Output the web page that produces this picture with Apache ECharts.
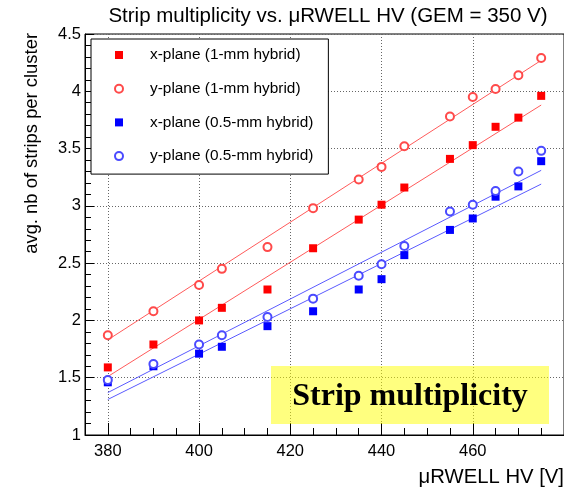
<!DOCTYPE html>
<html>
<head>
<meta charset="utf-8">
<script src="https://cdn.jsdelivr.net/npm/echarts@6/dist/echarts.min.js"></script>
<style>
  html, body { margin: 0; padding: 0; background: #fff; }
  #chart { width: 564px; height: 492px; }
</style>
</head>
<body>
<div id="chart"></div>
<script>
// HV points (V) and avg. strips per cluster
const hvRed = [380, 390, 400, 405, 415, 425, 435, 440, 445, 455, 460, 465, 470, 475];
const xPlane1mm = [1.59, 1.79, 2.00, 2.11, 2.27, 2.63, 2.88, 3.01, 3.16, 3.41, 3.53, 3.69, 3.77, 3.96];
const yPlane1mm = [1.87, 2.08, 2.31, 2.45, 2.64, 2.98, 3.23, 3.34, 3.52, 3.78, 3.95, 4.02, 4.14, 4.29];
const hvBlue = [380, 390, 400, 405, 415, 425, 435, 440, 445, 455, 460, 465, 470, 475];
const xPlaneHalf = [1.46, 1.60, 1.71, 1.77, 1.95, 2.08, 2.27, 2.36, 2.57, 2.79, 2.89, 3.08, 3.17, 3.39];
const yPlaneHalf = [1.48, 1.62, 1.79, 1.87, 2.03, 2.19, 2.39, 2.49, 2.65, 2.95, 3.01, 3.13, 3.30, 3.48];

// linear fit end points [hv, value]
const fitX1mm = [[380, 1.51], [475, 3.88]];
const fitY1mm = [[380, 1.83], [475, 4.27]];
const fitXHalf = [[380, 1.31], [475, 3.19]];
const fitYHalf = [[380, 1.37], [475, 3.31]];

const names = ['x-plane (1-mm hybrid)', 'y-plane (1-mm hybrid)', 'x-plane (0.5-mm hybrid)', 'y-plane (0.5-mm hybrid)'];

const font = 'Liberation Sans, Arial, sans-serif';
const pair = (xs, ys) => xs.map((x, i) => [x, ys[i]]);

function pts(name, xs, ys, symbol, color, size) {
  return {
    name: name,
    type: 'scatter',
    data: pair(xs, ys),
    symbol: symbol,
    symbolSize: size,
    itemStyle: { color: color, opacity: 1, borderWidth: symbol === 'emptyCircle' ? 1 : 0 },
    z: 5
  };
}
function fit(name, data, color) {
  return {
    name: name,
    type: 'line',
    data: data,
    showSymbol: false,
    lineStyle: { color: color, width: 1 },
    silent: true,
    z: 3
  };
}

const chart = echarts.init(document.getElementById('chart'));
chart.setOption({
  animation: false,
  title: {
    text: 'Strip multiplicity vs. μRWELL HV (GEM = 350 V)',
    left: 323,
    textAlign: 'center',
    top: 1,
    textStyle: { fontFamily: font, fontSize: 20.5, fontWeight: 'normal', color: '#000' }
  },
  grid: {
    left: 85, top: 34, width: 481, height: 401,
    show: true, borderColor: '#000', borderWidth: 1
  },
  legend: {
    orient: 'vertical',
    left: 91, top: 39,
    data: [
      { name: names[0], icon: 'rect' },
      { name: names[1], icon: 'emptyCircle' },
      { name: names[2], icon: 'rect' },
      { name: names[3], icon: 'emptyCircle' }
    ],
    padding: [7, 15, 9, 23],
    itemWidth: 8, itemHeight: 8,
    itemGap: 15.7,
    backgroundColor: '#fff',
    borderColor: '#000', borderWidth: 1,
    textStyle: { fontFamily: font, fontSize: 15.4, lineHeight: 18, color: '#000', padding: [0, 0, 0, 22] },
    selectedMode: false
  },
  xAxis: {
    type: 'value', min: 375, max: 480,
    axisLine: { lineStyle: { color: '#000' } },
    axisTick: { inside: true, length: 12, lineStyle: { color: '#000' } },
    minorTick: { show: true, splitNumber: 4, length: 7, lineStyle: { color: '#000' } },
    axisLabel: { showMinLabel: false, showMaxLabel: false, margin: 8, fontFamily: font, fontSize: 16.5, color: '#000' },
    splitLine: { show: true, lineStyle: { color: '#666', type: [1, 2] } }
  },
  yAxis: {
    type: 'value', min: 1, max: 4.5, interval: 0.5,
    axisLine: { show: true, lineStyle: { color: '#000' } },
    axisTick: { show: true, inside: true, length: 9, lineStyle: { color: '#000' } },
    minorTick: { show: true, splitNumber: 5, length: 6, lineStyle: { color: '#000' } },
    axisLabel: { margin: 4, fontFamily: font, fontSize: 16.5, color: '#000' },
    splitLine: { show: true, lineStyle: { color: '#666', type: [1, 2] } }
  },
  graphic: [
    {
      type: 'rect',
      shape: { x: 271, y: 366, width: 278, height: 58 },
      style: { fill: 'rgba(255,255,0,0.5)' },
      z: 10
    },
    {
      type: 'text',
      x: 410, y: 397,
      style: {
        text: 'Strip multiplicity',
        fontFamily: 'Liberation Serif, Times New Roman, serif',
        fontWeight: 'bold', fontSize: 32,
        fill: '#000', align: 'center', verticalAlign: 'middle'
      },
      z: 11
    },
    {
      type: 'text',
      x: 564, y: 477,
      style: {
        text: 'μRWELL HV [V]', fontFamily: font, fontSize: 20.3,
        fill: '#000', align: 'right', verticalAlign: 'middle'
      }
    },
    {
      type: 'text',
      x: 32, y: 33, rotation: Math.PI / 2,
      style: {
        text: 'avg. nb of strips per cluster', fontFamily: font, fontSize: 18.4,
        fill: '#000', align: 'right', verticalAlign: 'middle'
      }
    }
  ],
  series: [
    pts(names[0], hvRed, xPlane1mm, 'rect', '#ff0000', 8),
    pts(names[1], hvRed, yPlane1mm, 'emptyCircle', '#ff4a4a', 8),
    pts(names[2], hvBlue, xPlaneHalf, 'rect', '#0000ff', 8),
    pts(names[3], hvBlue, yPlaneHalf, 'emptyCircle', '#4a4aff', 8),
    fit('fit x 1mm', fitX1mm, '#ff5a5a'),
    fit('fit y 1mm', fitY1mm, '#ff5a5a'),
    fit('fit x 0.5mm', fitXHalf, '#5a5aff'),
    fit('fit y 0.5mm', fitYHalf, '#5a5aff')
  ]
});
</script>
</body>
</html>
